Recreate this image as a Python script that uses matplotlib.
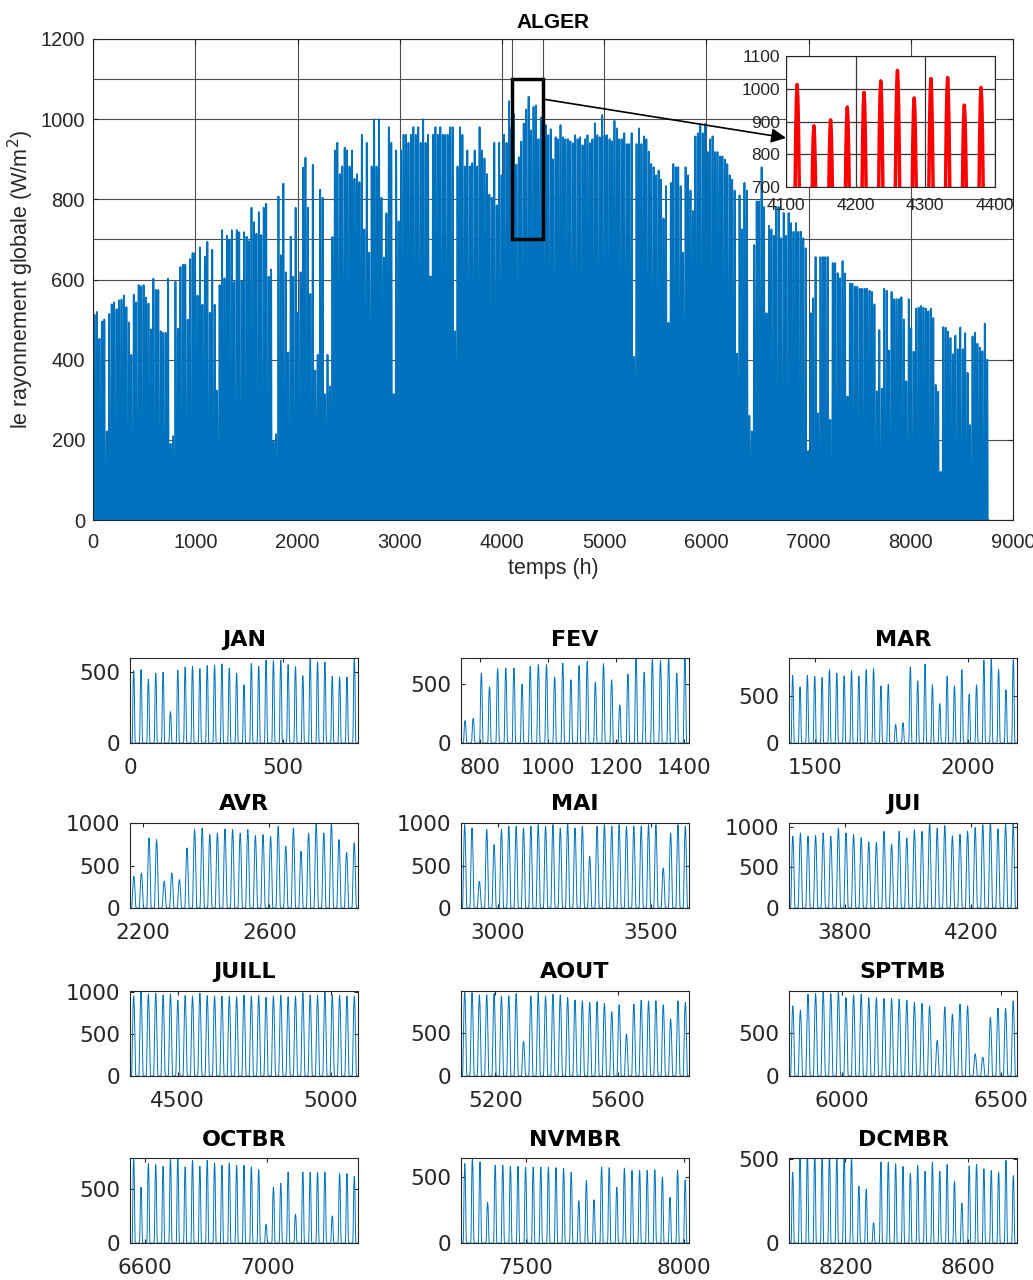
import matplotlib.pyplot as plt
import numpy as np
from matplotlib.patches import Rectangle

plt.rcParams['font.family'] = ['Liberation Sans', 'DejaVu Sans']

MOIS = ['JAN', 'FEV', 'MAR', 'AVR', 'MAI', 'JUI',
        'JUILL', 'AOUT', 'SPTMB', 'OCTBR', 'NVMBR', 'DCMBR']
JOURS_PAR_MOIS = [31, 28, 31, 30, 31, 30, 31, 31, 30, 31, 30, 31]

# daily peak of global irradiance at solar noon (W/m2), one value per day
PIC_JAN = [512, 519, 452, 495, 500, 221, 514, 538, 543, 526, 548, 550, 560, 531,
           493, 412, 562, 543, 586, 583, 586, 555, 540, 476, 602, 574, 574, 471,
           467, 467, 602]
PIC_FEV = [190, 209, 594, 477, 631, 637, 637, 500, 651, 666, 666, 560, 680, 537,
           657, 694, 517, 674, 537, 323, 586, 723, 603, 709, 700, 723, 594, 723]
PIC_MAR = [718, 596, 718, 707, 696, 779, 743, 714, 768, 711, 779, 789, 607, 625,
           196, 214, 807, 661, 839, 618, 418, 707, 607, 779, 518, 618, 879, 904,
           779, 564, 886]
PIC_AVR = [373, 412, 824, 804, 314, 412, 333, 706, 922, 941, 863, 882, 929, 922,
           882, 922, 851, 863, 843, 961, 725, 941, 667, 882, 1000, 882, 1000, 804,
           655, 765]
PIC_MAI = [980, 941, 314, 922, 745, 922, 961, 961, 941, 961, 980, 961, 980, 941,
           1000, 941, 961, 608, 961, 980, 961, 980, 961, 961, 961, 980, 980, 471,
           882, 980, 961]
PIC_JUI = [882, 922, 882, 890, 922, 882, 980, 922, 902, 863, 812, 804, 941, 785,
           941, 860, 961, 941, 1045, 980, 1013, 887, 905, 944, 989, 1024, 1056,
           972, 1031, 1034]
PIC_JUILL = [950, 1004, 975, 985, 960, 975, 900, 955, 950, 985, 955, 950, 950,
             945, 940, 960, 950, 955, 935, 950, 960, 940, 950, 990, 960, 955,
             1010, 960, 960, 950, 945]
PIC_AOUT = [996, 977, 950, 950, 965, 938, 938, 965, 407, 938, 977, 938, 957, 950,
            919, 888, 880, 860, 872, 849, 752, 833, 492, 841, 888, 880, 880, 833,
            667, 880, 860]
PIC_SPTMB = [822, 771, 957, 965, 988, 965, 988, 918, 950, 957, 918, 918, 907, 907,
             899, 888, 860, 849, 822, 415, 810, 725, 841, 822, 260, 221, 686, 795,
             795, 880]
PIC_OCTBR = [781, 516, 734, 725, 709, 781, 781, 703, 766, 709, 766, 741, 719, 741,
             719, 719, 703, 678, 172, 516, 553, 656, 266, 656, 656, 656, 656, 250,
             641, 641, 616]
PIC_NVMBR = [603, 646, 615, 308, 590, 590, 582, 582, 577, 577, 577, 577, 572, 569,
             538, 321, 474, 328, 577, 572, 423, 569, 551, 551, 551, 556, 500, 346,
             551, 479]
PIC_DCMBR = [420, 527, 530, 534, 530, 527, 521, 527, 504, 337, 320, 120, 481, 480,
             470, 454, 414, 460, 426, 480, 426, 466, 367, 237, 458, 467, 440, 430,
             421, 490, 400]

# hourly fraction of the noon peak, hours 0..23
PROFIL_HIVER = [0, 0, 0, 0, 0, 0, 0, 0, 0.15, 0.48, 0.78, 0.95,
                1.0, 0.95, 0.78, 0.48, 0.15, 0, 0, 0, 0, 0, 0, 0]
PROFIL_ETE = [0, 0, 0, 0, 0, 0, 0.08, 0.28, 0.50, 0.70, 0.86, 0.96,
              1.0, 0.96, 0.86, 0.70, 0.50, 0.28, 0.08, 0, 0, 0, 0, 0]
SAISON = ['H', 'H', 'H', 'E', 'E', 'E', 'E', 'E', 'E', 'H', 'H', 'H']

XTICKS = [[0, 500], [800, 1000, 1200, 1400], [1500, 2000], [2200, 2600],
          [3000, 3500], [3800, 4200], [4500, 5000], [5200, 5600],
          [6000, 6500], [6600, 7000], [7500, 8000], [8200, 8600]]
YMAX = [602, 723, 904, 1000, 1000, 1045, 1010, 996, 996, 787, 646, 505]

pics = [PIC_JAN, PIC_FEV, PIC_MAR, PIC_AVR, PIC_MAI, PIC_JUI,
        PIC_JUILL, PIC_AOUT, PIC_SPTMB, PIC_OCTBR, PIC_NVMBR, PIC_DCMBR]

jours = []
for m, pics_mois in enumerate(pics):
    assert len(pics_mois) == JOURS_PAR_MOIS[m]
    profil = np.array(PROFIL_ETE if SAISON[m] == 'E' else PROFIL_HIVER)
    for p in pics_mois:
        jours.append(p * profil)
G = np.concatenate(jours)
t = np.arange(len(G))
debut = np.concatenate([[0], np.cumsum(JOURS_PAR_MOIS)]) * 24

BLEU = '#0072BD'
GRIS = '#262626'
W, H = 1033, 1280


def pos(l, t_, r, b):
    return [l / W, 1 - b / H, (r - l) / W, (b - t_) / H]


fig = plt.figure(figsize=(W / 100, H / 100), dpi=100)

# --- whole year ---
ax = fig.add_axes(pos(93.3, 39, 1013, 520))
ax.plot(t, G, color=BLEU, lw=1.3)
ax.set_xlim(0, 9000)
ax.set_ylim(0, 1200)
ax.set_xticks(np.arange(0, 9001, 1000))
ax.set_yticks(np.arange(0, 1201, 200))
ax.set_axisbelow(True)
ax.grid(True, color='#4d4d4d', lw=0.8)
for y in (700, 1100):
    ax.axhline(y, color='#4d4d4d', lw=0.8, zorder=0.5)
for x in (4100, 4400):
    ax.axvline(x, color='#4d4d4d', lw=0.8, zorder=0.5)
ax.tick_params(direction='in', labelsize=14.5, colors=GRIS, top=True, right=True)
ax.tick_params(axis='x', pad=9)
ax.tick_params(axis='y', pad=6)
for s in ax.spines.values():
    s.set_color(GRIS)
ax.set_title('ALGER', fontsize=15, fontweight='bold', pad=8)
ax.set_xlabel('temps (h)', fontsize=15.5, color=GRIS, labelpad=5)
ax.set_ylabel('le rayonnement globale (W/m$^2$)', fontsize=15.5, color=GRIS,
              labelpad=3)
ax.add_patch(Rectangle((4100, 700), 300, 400, fill=False, ec='k', lw=2.5, zorder=3))

# --- zoom on end of June ---
axins = fig.add_axes(pos(786, 56, 995, 187))
axins.set_facecolor('white')
axins.plot(t, G, color='red', lw=2.5)
axins.set_xlim(4100, 4400)
axins.set_ylim(700, 1100)
axins.set_xticks([4100, 4200, 4300, 4400])
axins.set_yticks([700, 800, 900, 1000, 1100])
axins.set_axisbelow(True)
axins.grid(True, color='#333333', lw=0.9)
axins.tick_params(direction='in', labelsize=12.5, colors=GRIS, length=0)
axins.tick_params(axis='x', pad=8)
axins.tick_params(axis='y', pad=4)
for s in axins.spines.values():
    s.set_color(GRIS)
axins.annotate('', xy=(4100, 850), xycoords='data',
               xytext=(4402, 1050), textcoords=ax.transData,
               arrowprops=dict(arrowstyle='-|>', color='k', lw=1.2,
                               mutation_scale=22, shrinkA=0, shrinkB=0),
               annotation_clip=False)

# --- one panel per month ---
cols = [130, 461, 789]
tops = [658, 823, 991, 1158]
for m in range(12):
    r, c = divmod(m, 3)
    a = fig.add_axes(pos(cols[c], tops[r], cols[c] + 228, tops[r] + 85))
    a.plot(t, G, color=BLEU, lw=0.7)
    a.set_xlim(debut[m], debut[m + 1])
    a.set_ylim(0, YMAX[m])
    a.set_xticks(XTICKS[m])
    a.set_yticks([0, 500, 1000] if YMAX[m] >= 1000 else [0, 500])
    a.tick_params(direction='in', labelsize=15.5, colors=GRIS, top=True,
                  right=True, length=3, labelfontfamily='DejaVu Sans')
    a.tick_params(axis='x', pad=11)
    a.tick_params(axis='y', pad=7)
    for s in a.spines.values():
        s.set_color(GRIS)
    a.set_title(MOIS[m], fontsize=16, fontweight='bold', pad=9,
                family='DejaVu Sans')

fig.savefig('out.png', dpi=100)
